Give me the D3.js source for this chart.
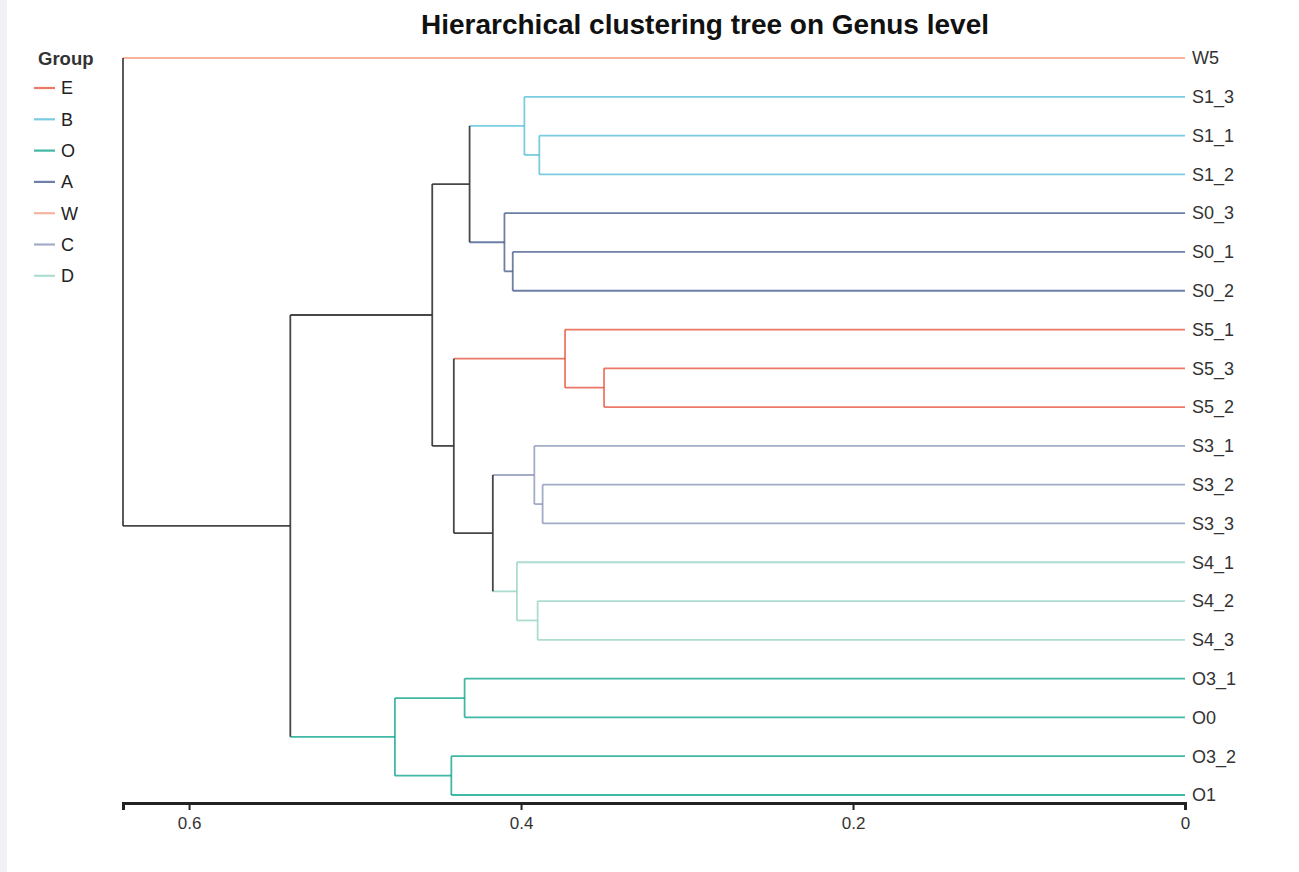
<!DOCTYPE html>
<html>
<head>
<meta charset="utf-8">
<script src="https://cdn.jsdelivr.net/npm/d3@7"></script>
<style>
  body { margin: 0; background: #fff; }
  svg { display: block; font-family: Arial, "Liberation Sans", sans-serif; }
</style>
</head>
<body>
<svg id="chart" width="1299" height="872"></svg>
<script>
// leaves, top to bottom
const leafNames = ["W5", "S1_3", "S1_1", "S1_2", "S0_3", "S0_1", "S0_2", "S5_1", "S5_3", "S5_2",
    "S3_1", "S3_2", "S3_3", "S4_1", "S4_2", "S4_3", "O3_1", "O0", "O3_2", "O1"];
const leafGroups = ["W", "B", "B", "B", "A", "A", "A", "E", "E", "E",
    "C", "C", "C", "D", "D", "D", "O", "O", "O", "O"];

// merges: [id, first child, second child, height]
const merges = [
    ["m1", "S1_1", "S1_2", 0.389],
    ["m2", "S1_3", "m1", 0.398],
    ["m3", "S0_1", "S0_2", 0.405],
    ["m4", "S0_3", "m3", 0.410],
    ["m5", "m2", "m4", 0.431],
    ["m6", "S5_3", "S5_2", 0.350],
    ["m7", "S5_1", "m6", 0.3735],
    ["m8", "S3_2", "S3_3", 0.387],
    ["m9", "S3_1", "m8", 0.392],
    ["m10", "S4_2", "S4_3", 0.390],
    ["m11", "S4_1", "m10", 0.4025],
    ["m12", "m9", "m11", 0.417],
    ["m13", "m7", "m12", 0.4405],
    ["m14", "m5", "m13", 0.4535],
    ["m15", "O3_1", "O0", 0.434],
    ["m16", "O3_2", "O1", 0.442],
    ["m17", "m15", "m16", 0.476],
    ["m18", "m14", "m17", 0.539],
    ["m19", "W5", "m18", 0.6398]
];

const groupNames = ["E", "B", "O", "A", "W", "C", "D"];
const groupColors = ["#E64B35", "#4DBBD5", "#00A087", "#3C5488", "#F39B7F", "#8491B4", "#91D1C2"];
const tickValues = [0.6, 0.4, 0.2, 0];

const svg = d3.select("#chart");
const color = d3.scaleOrdinal().domain(groupNames).range(groupColors);

// light strip on the left edge
svg.append("rect").attr("x", 0).attr("y", 0).attr("width", 7).attr("height", 872).attr("fill", "#f1f2f6");

// build the tree from the merge list
const nodeById = {};
leafNames.forEach((n, i) => { nodeById[n] = { name: n, group: leafGroups[i], height: 0 }; });
merges.forEach(m => {
    nodeById[m[0]] = { name: m[0], height: m[3], children: [nodeById[m[1]], nodeById[m[2]]] };
});
const root = d3.hierarchy(nodeById["m19"]);

const x = d3.scaleLinear().domain([0.6398, 0]).range([123, 1185]);
const y = d3.scalePoint().domain(leafNames).range([58, 795]);

// positions and group of each node
root.eachAfter(d => {
    d.px = x(d.data.height);
    if (!d.children) {
        d.py = y(d.data.name);
        d.grp = d.data.group;
    } else {
        d.py = d3.mean(d.children, c => c.py);
        const gs = new Set(d.children.map(c => c.grp));
        d.grp = (gs.size === 1 && !gs.has(null)) ? [...gs][0] : null;
    }
});

const strokeOf = d => d.grp ? color(d.grp) : "#333";
const opacityOf = d => d.grp ? 0.75 : 0.9;

const tree = svg.append("g").attr("class", "tree").attr("fill", "none");

// horizontal segment from parent height to node
tree.selectAll(".hlink")
    .data(root.descendants().filter(d => d.parent))
    .join("path")
    .attr("class", "hlink")
    .attr("d", d => `M${d.parent.px},${d.py}H${d.px}`)
    .attr("stroke", strokeOf)
    .attr("stroke-opacity", opacityOf)
    .attr("stroke-width", 1.8);

// vertical segment at each internal node
tree.selectAll(".vlink")
    .data(root.descendants().filter(d => d.children))
    .join("path")
    .attr("class", "vlink")
    .attr("d", d => `M${d.px},${d.children[0].py}V${d.children[1].py}`)
    .attr("stroke", strokeOf)
    .attr("stroke-opacity", opacityOf)
    .attr("stroke-width", 1.8);

// leaf labels
svg.append("g").selectAll("text")
    .data(root.leaves())
    .join("text")
    .attr("x", d => d.px + 7)
    .attr("y", d => d.py)
    .attr("dy", "0.35em")
    .attr("font-size", 18)
    .attr("fill", "#333")
    .text(d => d.data.name);

// axis
const axis = svg.append("g")
    .attr("transform", "translate(0,803)")
    .call(d3.axisBottom(x).tickValues(tickValues).tickFormat(d3.format("")).tickSize(7).tickSizeOuter(7));
axis.select(".domain").attr("stroke", "#222").attr("stroke-width", 3);
axis.selectAll(".tick line").attr("stroke", "#222").attr("stroke-width", 2);
axis.selectAll(".tick text").attr("font-size", 17).attr("fill", "#333").attr("y", 10).attr("dy", "0.95em")
    .attr("font-family", "Arial, 'Liberation Sans', sans-serif");

// title
svg.append("text")
    .attr("x", 705)
    .attr("y", 34)
    .attr("text-anchor", "middle")
    .attr("font-size", 28)
    .attr("font-weight", "bold")
    .attr("fill", "#111")
    .text("Hierarchical clustering tree on Genus level");

// legend
const legend = svg.append("g").attr("transform", "translate(34,0)");
legend.append("text")
    .attr("x", 4)
    .attr("y", 65)
    .attr("font-size", 18.5)
    .attr("font-weight", "bold")
    .attr("fill", "#333")
    .text("Group");
const items = legend.selectAll(".item")
    .data(groupNames)
    .join("g")
    .attr("class", "item")
    .attr("transform", (d, i) => `translate(0,${88 + i * 31.3})`);
items.append("line")
    .attr("x1", 0).attr("x2", 21)
    .attr("stroke", d => color(d))
    .attr("stroke-opacity", 0.75)
    .attr("stroke-width", 2.2);
items.append("text")
    .attr("x", 27)
    .attr("dy", "0.35em")
    .attr("font-size", 18)
    .attr("fill", "#222")
    .text(d => d);
</script>
</body>
</html>
